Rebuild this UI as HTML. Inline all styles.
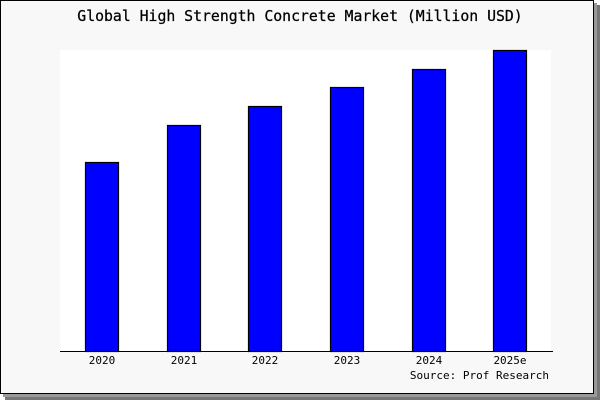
<!DOCTYPE html>
<html><head><style>
body{margin:0;width:600px;height:400px;background:#fff;overflow:hidden}
svg{display:block}
text{font-family:"DejaVu Sans Mono","Liberation Mono",monospace}
</style></head><body>
<svg width="600" height="400" xmlns="http://www.w3.org/2000/svg">
<rect x="5" y="5" width="595" height="395" fill="#777"/>
<rect x="3" y="3" width="594" height="394" fill="#999"/>
<rect x="0.5" y="0.5" width="593" height="393" fill="#f8f8f8" stroke="#000"/>
<text x="300" y="21" text-anchor="middle" font-size="14.8" stroke="#000" stroke-width="0.25">Global High Strength Concrete Market (Million USD)</text>
<rect x="60" y="50" width="491" height="301" fill="#fff"/>
<g fill="#0000ff" stroke="#000" stroke-width="1.2">
<rect x="85.5" y="162.5" width="33" height="189"/>
<rect x="167.5" y="125.5" width="33" height="226"/>
<rect x="248.5" y="106.5" width="33" height="245"/>
<rect x="330.5" y="87.5" width="33" height="264"/>
<rect x="412.5" y="69.5" width="33" height="282"/>
<rect x="493.5" y="50.5" width="33" height="301"/>
</g>
<line x1="60" y1="351.5" x2="553" y2="351.5" stroke="#000"/>
<g font-size="11" text-anchor="middle">
<text x="102" y="364">2020</text><text x="184" y="364">2021</text><text x="265" y="364">2022</text>
<text x="347" y="364">2023</text><text x="429" y="364">2024</text><text x="510" y="364">2025e</text>
</g>
<text x="549" y="379" font-size="11" text-anchor="end">Source: Prof Research</text>
</svg>
</body></html>
